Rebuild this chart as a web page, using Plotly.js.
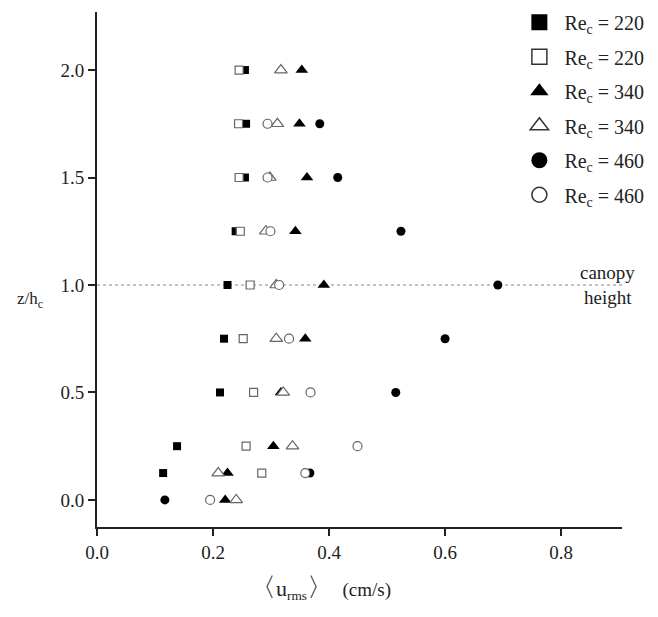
<!DOCTYPE html>
<html>
<head>
<meta charset="utf-8">
<script src="https://cdn.plot.ly/plotly-3.0.1.min.js"></script>
<style>html,body{margin:0;padding:0;background:#fff;}#chart{width:658px;height:617px;}</style>
</head>
<body>
<div id="chart"></div>
<script>
// z/h_c levels and <u_rms> values (cm/s)
const zSq220 = [2.0, 1.75, 1.5, 1.25, 1.0, 0.75, 0.5, 0.25, 0.125];
const uSq220Filled = [0.255, 0.257, 0.255, 0.239, 0.225, 0.219, 0.212, 0.138, 0.114];
const uSq220Open   = [0.245, 0.244, 0.245, 0.247, 0.264, 0.252, 0.270, 0.257, 0.284];

const zTri340 = [2.0, 1.75, 1.5, 1.25, 1.0, 0.75, 0.5, 0.25, 0.125, 0.0];
const uTri340Filled = [0.353, 0.349, 0.362, 0.342, 0.391, 0.359, 0.317, 0.304, 0.225, 0.221];
const uTri340Open   = [0.317, 0.311, 0.298, 0.291, 0.309, 0.309, 0.321, 0.337, 0.209, 0.240];

const zCirc460Filled = [1.75, 1.5, 1.25, 1.0, 0.75, 0.5, 0.125, 0.0];
const uCirc460Filled = [0.384, 0.415, 0.524, 0.691, 0.600, 0.515, 0.367, 0.117];
const zCirc460Open = [1.75, 1.5, 1.25, 1.0, 0.75, 0.5, 0.25, 0.125, 0.0];
const uCirc460Open = [0.294, 0.294, 0.299, 0.314, 0.331, 0.368, 0.449, 0.359, 0.195];

const legendLabels = ['Re<sub>c</sub> = 220', 'Re<sub>c</sub> = 220', 'Re<sub>c</sub> = 340',
                      'Re<sub>c</sub> = 340', 'Re<sub>c</sub> = 460', 'Re<sub>c</sub> = 460'];
const xTicks = [0.0, 0.2, 0.4, 0.6, 0.8];
const yTicks = [0.0, 0.5, 1.0, 1.5, 2.0];
const canopyLevel = 1.0;

const serif = 'Liberation Serif, Times New Roman, serif';
const openLine = {color: '#666', width: 1.2};

const specs = [
  {x: uSq220Filled, y: zSq220, sym: 'square', size: 8, fill: '#000', line: {color:'#000', width:0}, lsize: 16, rank: 1},
  {x: uTri340Filled, y: zTri340, sym: 'triangle-up', size: 11, fill: '#000', line: {color:'#000', width:0}, lsize: 16, rank: 3},
  {x: uCirc460Filled, y: zCirc460Filled, sym: 'circle', size: 9, fill: '#000', line: {color:'#000', width:0}, lsize: 16, rank: 5},
  {x: uSq220Open, y: zSq220, sym: 'square', size: 8, fill: '#fff', line: openLine, lsize: 15, rank: 2},
  {x: uTri340Open, y: zTri340, sym: 'triangle-up', size: 11, fill: '#fff', line: openLine, lsize: 16, rank: 4},
  {x: uCirc460Open, y: zCirc460Open, sym: 'circle', size: 9, fill: '#fff', line: openLine, lsize: 15, rank: 6}
];

const traces = [];
specs.forEach(s => {
  traces.push({
    type: 'scatter', mode: 'markers', x: s.x, y: s.y, showlegend: false, hoverinfo: 'x+y',
    marker: {symbol: s.sym, size: s.size, color: s.fill, line: s.line}
  });
});
// legend entries (larger symbols as in the original key)
specs.forEach(s => {
  traces.push({
    type: 'scatter', mode: 'markers', x: [null], y: [null], name: legendLabels[s.rank - 1],
    legendrank: s.rank, legendgroup: 'g' + s.rank, showlegend: true,
    marker: {symbol: s.sym, size: s.lsize, color: s.fill,
             line: s.fill === '#fff' ? {color: '#333', width: 1.5} : {width: 0}}
  });
});

const layout = {
  width: 658, height: 617,
  margin: {l: 97, r: 36, t: 12, b: 90, autoexpand: false},
  paper_bgcolor: '#fff', plot_bgcolor: '#fff',
  font: {family: serif, color: '#222'},
  showlegend: true,
  legend: {x: 0.795, xanchor: 'left', y: 1.018, yanchor: 'top', bgcolor: 'rgba(0,0,0,0)',
           font: {family: serif, size: 20, color: '#222'}, itemsizing: 'trace',
           tracegroupgap: 5.5, itemwidth: 40},
  xaxis: {
    range: [0, 0.905], tickvals: xTicks, ticktext: xTicks.map(v => v.toFixed(1)),
    showgrid: false, zeroline: false, showline: true, linecolor: '#222', linewidth: 2,
    ticks: 'outside', ticklen: 7, tickwidth: 2, tickcolor: '#222',
    tickfont: {family: serif, size: 19, color: '#222'}
  },
  yaxis: {
    range: [-0.126, 2.27], tickvals: yTicks, ticktext: yTicks.map(v => v.toFixed(1)),
    showgrid: false, zeroline: false, showline: true, linecolor: '#222', linewidth: 2,
    ticks: 'outside', ticklen: 7, tickwidth: 2, tickcolor: '#222',
    tickfont: {family: serif, size: 19, color: '#222'}
  },
  shapes: [{type: 'line', xref: 'paper', x0: 0, x1: 1, yref: 'y', y0: canopyLevel, y1: canopyLevel,
            line: {color: '#888', width: 1.2, dash: '3px,3px'}, layer: 'below'}],
  annotations: [
    {xref: 'paper', yref: 'paper', x: (30 - 97) / 525, y: (527 - 300) / 515, xanchor: 'center', yanchor: 'middle',
     showarrow: false, text: 'z/h<sub>c</sub>', font: {family: serif, size: 17, color: '#222'}},
    {xref: 'paper', yref: 'y', x: 0.973, y: 1.06, xanchor: 'center', yanchor: 'middle', showarrow: false,
     text: 'canopy', font: {family: serif, size: 19, color: '#222'}},
    {xref: 'paper', yref: 'y', x: 0.973, y: 0.94, xanchor: 'center', yanchor: 'middle', showarrow: false,
     text: 'height', font: {family: serif, size: 19, color: '#222'}},
    {xref: 'paper', yref: 'paper', x: (320 - 97) / 525, y: -(588 - 527) / 515, xanchor: 'center', yanchor: 'middle',
     showarrow: false,
     text: '<span style="font-size:26px">〈</span><span style="font-size:22px">u</span><sub>rms</sub><span style="font-size:26px">〉</span>  (cm/s)',
     font: {family: serif, size: 19, color: '#222'}}
  ]
};

Plotly.newPlot('chart', traces, layout, {displayModeBar: false, staticPlot: true});
</script>
</body>
</html>
